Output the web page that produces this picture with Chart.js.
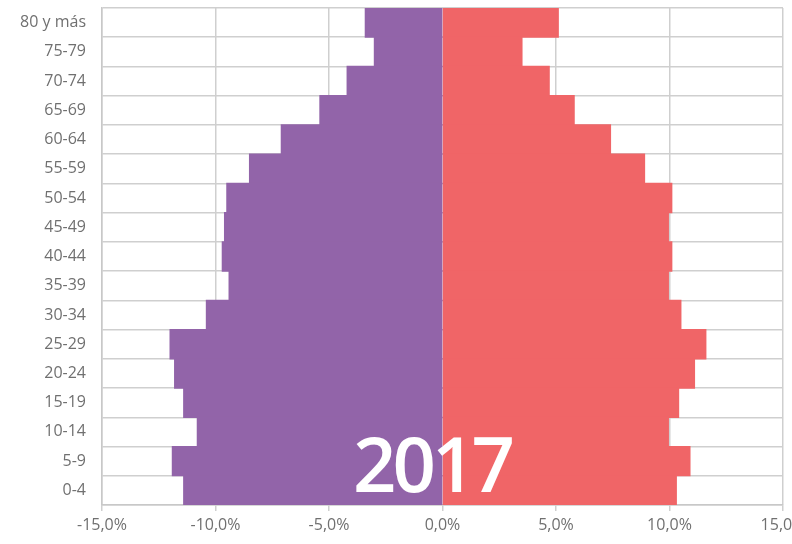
<!DOCTYPE html>
<html>
<head>
<meta charset="utf-8">
<script src="https://cdn.jsdelivr.net/npm/chart.js@4/dist/chart.umd.min.js"></script>
<style>
  html, body { margin: 0; padding: 0; background: #ffffff; }
  #wrap { position: relative; width: 792px; height: 544px; }
  #yearLabel {
    position: absolute; left: 350px; top: 418px; width: 164px;
    font-family: "Open Sans", sans-serif; font-weight: 600; font-size: 76px;
    letter-spacing: -4px; line-height: 90px; color: #ffffff; text-align: center;
    pointer-events: none;
  }
</style>
</head>
<body>
<div id="wrap">
  <canvas id="c" width="792" height="544"></canvas>
  <div id="yearLabel">2017</div>
</div>
<script>
const ageGroups = ["80 y más","75-79","70-74","65-69","60-64","55-59","50-54","45-49","40-44","35-39","30-34","25-29","20-24","15-19","10-14","5-9","0-4"];
const menValues = [-3.4,-3.0,-4.2,-5.4,-7.1,-8.5,-9.5,-9.6,-9.7,-9.4,-10.4,-12.0,-11.8,-11.4,-10.8,-11.9,-11.4];
const womenValues = [5.1,3.5,4.7,5.8,7.4,8.9,10.1,9.95,10.1,9.95,10.5,11.6,11.1,10.4,9.95,10.9,10.3];
const xTicks = [-15,-10,-5,0,5,10,15];

const gridColor = "#cfcfcf";
const textColor = "#707070";

new Chart(document.getElementById("c"), {
  type: "bar",
  data: {
    labels: ageGroups,
    datasets: [
      { label: "Hombres", data: menValues, backgroundColor: "#9264a9", borderWidth: 0, barPercentage: 1, categoryPercentage: 1, inflateAmount: 0.6 },
      { label: "Mujeres", data: womenValues, backgroundColor: "#f06567", borderWidth: 0, barPercentage: 1, categoryPercentage: 1, inflateAmount: 0.6 }
    ]
  },
  options: {
    indexAxis: "y",
    responsive: false,
    animation: false,
    devicePixelRatio: 1,
    layout: { padding: { left: 0, right: 9, top: 8, bottom: 0 } },
    plugins: { legend: { display: false }, tooltip: { enabled: false } },
    scales: {
      x: {
        stacked: true,
        min: -15, max: 15,
        afterBuildTicks: (s) => { s.ticks = xTicks.map(v => ({ value: v })); },
        afterFit: (s) => { s.paddingLeft = 0; s.paddingRight = 0; s.height = 39; },
        grid: {
          color: (ctx) => (ctx.tick && ctx.tick.value === 0) ? "rgba(0,0,0,0)" : gridColor,
          tickColor: gridColor,
          lineWidth: 1.5, tickLength: 6, drawTicks: true
        },
        border: { color: "#c8c8c8", width: 1.5 },
        ticks: {
          color: textColor, padding: 5, maxRotation: 0,
          font: { family: "'Open Sans', sans-serif", size: 16 },
          callback: (v) => v.toFixed(1).replace(".", ",") + "%"
        }
      },
      y: {
        stacked: true,
        afterFit: (s) => { s.width = 102; s.paddingTop = 0; s.paddingBottom = 0; },
        grid: { color: gridColor, lineWidth: 1.5, drawTicks: false, offset: true },
        border: { color: "#c8c8c8", width: 1.5 },
        ticks: {
          color: textColor, padding: 16, autoSkip: false,
          font: { family: "'Open Sans', sans-serif", size: 16 }
        }
      }
    }
  }
});
</script>
</body>
</html>
